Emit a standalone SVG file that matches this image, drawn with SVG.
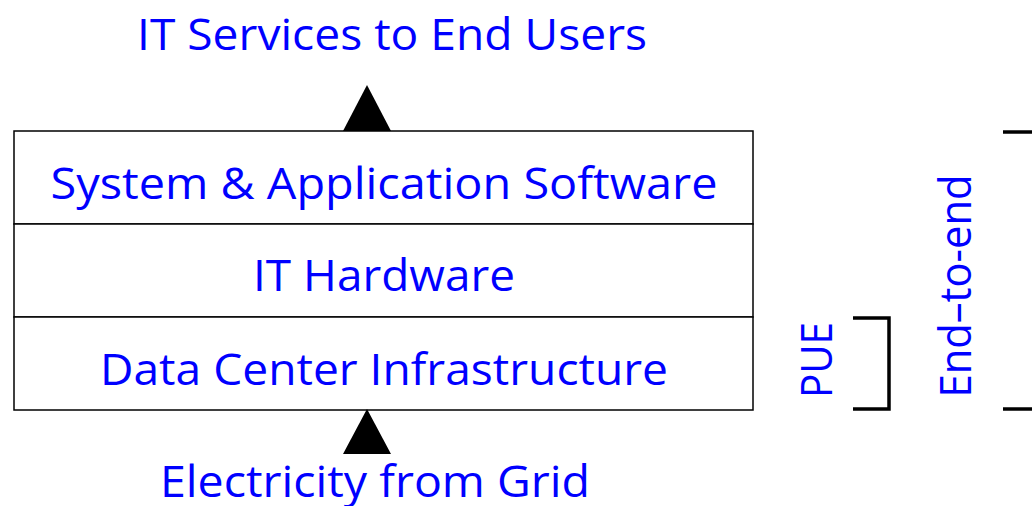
<svg xmlns="http://www.w3.org/2000/svg" width="1032" height="506" viewBox="0 0 1032 506">
<style>
.t{font-family:"Open Sans","Liberation Sans",sans-serif;fill:#0000FF;font-size:44px}
.box{fill:#fff;stroke:#000;stroke-width:1.5}
.br{fill:none;stroke:#000;stroke-width:3.5}
</style>
<rect width="1032" height="506" fill="#fff"/>
<g id="title"><text class="t" x="392" y="50" text-anchor="middle" textLength="510" lengthAdjust="spacingAndGlyphs">IT Services to End Users</text></g>
<g id="software"><rect class="box" x="14" y="131" width="739" height="93"/><text class="t" x="384" y="199" text-anchor="middle" textLength="667" lengthAdjust="spacingAndGlyphs">System &amp; Application Software</text></g>
<g id="hardware"><rect class="box" x="14" y="224" width="739" height="93"/><text class="t" x="384" y="291" text-anchor="middle" textLength="262" lengthAdjust="spacingAndGlyphs">IT Hardware</text></g>
<g id="infrastructure"><rect class="box" x="14" y="317" width="739" height="93"/><text class="t" x="384" y="385" text-anchor="middle" textLength="568" lengthAdjust="spacingAndGlyphs">Data Center Infrastructure</text></g>
<g id="grid"><text class="t" x="375" y="497" text-anchor="middle" textLength="430" lengthAdjust="spacingAndGlyphs">Electricity from Grid</text></g>
<g id="pue"><text class="t" transform="translate(832,360) rotate(-90)" x="0" y="0" text-anchor="middle" textLength="76" lengthAdjust="spacingAndGlyphs">PUE</text></g>
<g id="endtoend"><text class="t" transform="translate(971,286) rotate(-90)" x="0" y="0" text-anchor="middle" textLength="223" lengthAdjust="spacingAndGlyphs">End–to-end</text></g>
<g id="connectors">
<polygon points="367,85 343,131 391,131" fill="#000"/>
<polygon points="367,409 343,454 391,454" fill="#000"/>
<polyline class="br" points="853,318 889,318 889,409 853,409"/>
<polyline class="br" points="1003,132 1040,132"/>
<polyline class="br" points="1003,409 1040,409"/>
</g>
</svg>
